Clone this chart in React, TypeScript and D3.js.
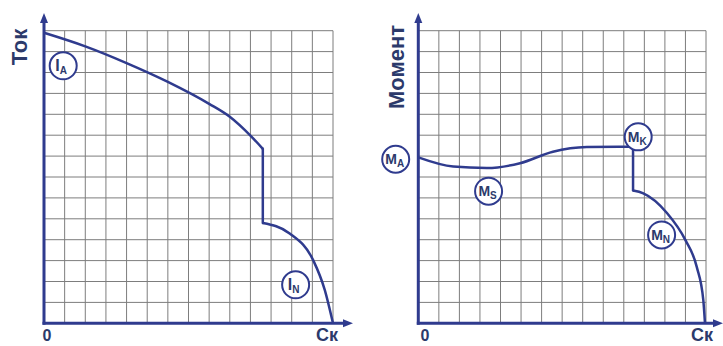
import React from "react";
import * as d3 from "d3";

type P = [number, number];

// Grid units (0..14) on both axes
const gridTicks: number[] = d3.range(0, 15);

// Current (Ток) curve, in grid units
const currentUpper: P[] = [[0, 13.9], [2, 13.25], [4, 12.45], [6, 11.55], [8, 10.5], [9.0, 9.88], [10.0, 8.98], [10.6, 8.35]];
const currentLower: P[] = [[10.6, 4.8], [11.9, 4.3], [13.05, 3.0], [13.6, 1.6], [14, 0]];

// Torque (Момент) curve, in grid units
const torqueUpper: P[] = [[0, 7.94], [1.7, 7.5], [3.33, 7.43], [4.95, 7.66], [6.55, 8.21], [8.2, 8.43], [10.45, 8.45]];
const torqueLower: P[] = [[10.45, 6.35], [10.95, 6.22], [12.1, 5.28], [13.0, 3.98], [13.55, 2.7], [13.87, 1.1], [13.95, 0]];

// Labels: [main, subscript, gx, gy]
const currentLabels: [string, string, number, number][] = [["I", "A", 0.93, 12.32], ["I", "N", 12.19, 1.84]];
const torqueLabels: [string, string, number, number][] = [["M", "A", -1.1, 7.85], ["M", "S", 3.42, 6.32], ["M", "K", 10.7, 8.92], ["M", "N", 11.84, 4.23]];

const BLUE = "#2f3b8e";
const TEXT = "#2c3a6b";
const GRID = "#7d7d7d";
const FONT = "Liberation Sans, Arial, sans-serif";

function Panel(props: {
  x0: number; x1: number; arrowX: number;
  upper: P[]; lower: P[];
  labels: [string, string, number, number][];
  title: string; titleX: number; titleY: number;
  zeroX: number; ckX: number; ckY: number;
}) {
  const { x0, x1, arrowX, upper, lower, labels, title, titleX, titleY, zeroX, ckX, ckY } = props;
  const x = d3.scaleLinear().domain([0, 14]).range([x0, x1]);
  const y = d3.scaleLinear().domain([0, 14]).range([323.3, 30.7]);
  const line = d3.line<P>().x(d => x(d[0])).y(d => y(d[1])).curve(d3.curveMonotoneX);
  const u = upper[upper.length - 1];
  const l = lower[0];
  const yTop = 13;
  return (
    <g>
      {gridTicks.map(t => (
        <line key={"v" + t} x1={x(t)} x2={x(t)} y1={y(0)} y2={y(14)} stroke={GRID} strokeWidth={1} />
      ))}
      {gridTicks.map(t => (
        <line key={"h" + t} x1={x(0)} x2={x(14)} y1={y(t)} y2={y(t)} stroke={GRID} strokeWidth={1} />
      ))}
      {/* axes */}
      <line x1={x(0)} x2={x(0)} y1={y(0) + 1.5} y2={yTop + 8} stroke={BLUE} strokeWidth={3} />
      <path d={`M${x(0)},${yTop} L${x(0) - 4},${yTop + 10} L${x(0) + 4},${yTop + 10} Z`} fill={BLUE} />
      <line x1={x(0) - 1.5} x2={arrowX - 8} y1={y(0)} y2={y(0)} stroke={BLUE} strokeWidth={3} />
      <path d={`M${arrowX},${y(0)} L${arrowX - 10},${y(0) - 4} L${arrowX - 10},${y(0) + 4} Z`} fill={BLUE} />
      {/* curve */}
      <path d={line(upper) || ""} fill="none" stroke={BLUE} strokeWidth={2.5} strokeLinejoin="round" />
      <line x1={x(u[0])} x2={x(l[0])} y1={y(u[1])} y2={y(l[1])} stroke={BLUE} strokeWidth={2.5} strokeLinecap="round" />
      <path d={line(lower) || ""} fill="none" stroke={BLUE} strokeWidth={2.5} strokeLinejoin="round" />
      {/* labels */}
      {labels.map(([m, s, gx, gy]) => (
        <g key={m + s} transform={`translate(${x(gx)},${y(gy)})`}>
          <circle r={13.5} fill="#fff" stroke={BLUE} strokeWidth={2} />
          <text textAnchor="middle" y={5} fontFamily={FONT} fontWeight="bold" fill={TEXT} fontSize={m === "M" ? 14 : 16}>
            <tspan dx={m === "M" ? -1 : -2}>{m}</tspan>
            <tspan fontSize={10} dy={3}>{s}</tspan>
          </text>
        </g>
      ))}
      <text transform={`translate(${titleX},${titleY}) rotate(-90)`} textAnchor="middle" dy="0.36em"
        fontFamily={FONT} fontWeight="bold" fontSize={22} fill={TEXT}>{title}</text>
      <text x={zeroX} y={341} textAnchor="middle" fontFamily={FONT} fontWeight="bold" fontSize={16} fill={TEXT}>0</text>
      <text x={ckX} y={ckY} textAnchor="middle" fontFamily={FONT} fontWeight="bold" fontSize={18} fill={TEXT}>Ск</text>
    </g>
  );
}

export default function App() {
  return (
    <svg width={723} height={346} style={{ position: "absolute", left: 0, top: 0, background: "#fff" }}>
      <rect width={723} height={346} fill="#fff" />
      <Panel x0={44} x1={333} arrowX={353} upper={currentUpper} lower={currentLower} labels={currentLabels}
        title="Ток" titleX={19} titleY={47} zeroX={47} ckX={327} ckY={341} />
      <Panel x0={418.3} x1={706} arrowX={723} upper={torqueUpper} lower={torqueLower} labels={torqueLabels}
        title="Момент" titleX={396} titleY={67} zeroX={425} ckX={702} ckY={341} />
    </svg>
  );
}
